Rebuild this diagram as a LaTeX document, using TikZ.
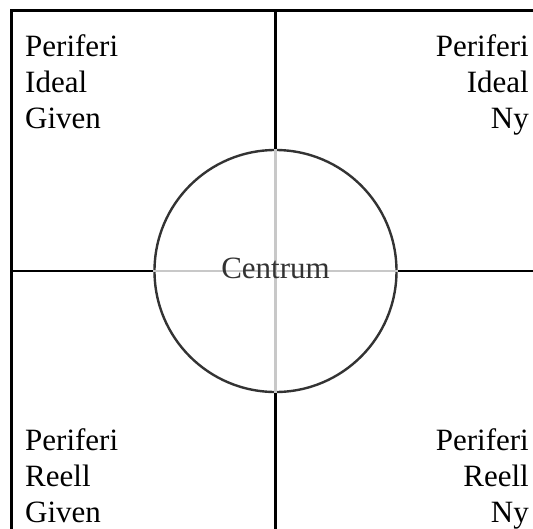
\documentclass[tikz,border=0pt]{standalone}
\usepackage{fontspec}
\setmainfont{Liberation Serif}
\usepackage{xcolor}
\usetikzlibrary{positioning}
\definecolor{kantgraa}{RGB}{51, 51, 51}
\definecolor{lysgraa}{RGB}{200, 200, 200}

\begin{document}
\begin{tikzpicture}[
  x=1pt, y=-1pt,
  font=\fontsize{31}{36}\selectfont,
  kvadrant/.style={inner sep=0pt, align=#1},
  kvadrant/.default=left,
  akse/.style={line width=2.5pt, black},
  indre/.style={line width=2.2pt, lysgraa},
  centrum/.style={circle, draw=kantgraa, line width=2.4pt, fill=white, minimum size=242pt, inner sep=0pt}
]
\useasboundingbox (0,0) rectangle (533,528);
% Ramme
\coordinate (nw) at (11,10);
\coordinate (ne) at (540,10);
\coordinate (sw) at (11,532);
\coordinate (se) at (540,532);
\draw[line width=3pt] (nw) rectangle (se);
% Cirkel og akser
\node[centrum] (midt) at (275.5,271) {};
\draw[akse] (nw -| midt) -- (midt.north);
\draw[akse] (sw -| midt) -- (midt.south);
\draw[akse] (nw |- midt) -- (midt.west);
\draw[akse] (ne |- midt) -- (midt.east);
\draw[indre] (midt.north) -- (midt.south);
\draw[indre] (midt.west) -- (midt.east);
\node[anchor=base, text=kantgraa] (centrumtekst) at ([yshift=-7pt]midt.center) {Centrum};
% Kvadranter
\node[kvadrant, below right=24pt and 14pt of nw] (idealgiven) {Periferi\\Ideal\\Given};
\node[kvadrant=right, below left=24pt and 11pt of ne] (idealny) {Periferi\\Ideal\\Ny};
\node[kvadrant, above right=9pt and 14pt of sw] (reellgiven) {Periferi\\Reell\\Given};
\node[kvadrant=right, above left=2.5pt and 11pt of se] (reellny) {Periferi\\Reell\\Ny};
\end{tikzpicture}
\end{document}
